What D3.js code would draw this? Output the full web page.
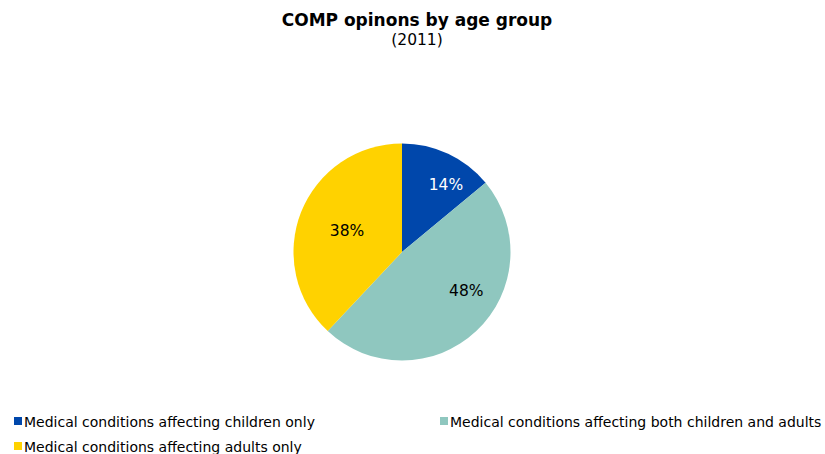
<!DOCTYPE html>
<html><head><meta charset="utf-8">
<script src="https://cdn.jsdelivr.net/npm/d3@7"></script>
<style>body{margin:0;background:#fff}svg{display:block}text{font-family:"DejaVu Sans",Verdana,sans-serif}</style>
</head><body>
<svg id="c" width="825" height="454"></svg>
<script>
const categories = ["Medical conditions affecting children only","Medical conditions affecting both children and adults","Medical conditions affecting adults only"];
const values = [14, 48, 38];
const colors = ["#0047AB", "#8FC7BF", "#FFD200"];
const labelColors = ["#ffffff", "#000000", "#000000"];
const title = "COMP opinons by age group";
const subtitle = "(2011)";

const svg = d3.select("#c");
svg.append("text").attr("x", 417).attr("y", 26).attr("text-anchor","middle")
  .attr("font-size", 17).attr("font-weight","bold").text(title);
svg.append("text").attr("x", 417).attr("y", 45).attr("text-anchor","middle")
  .attr("font-size", 15.5).text(subtitle);

const cx = 402, cy = 252, R = 108.5;
// label placement (best-fit style): radius fraction and angular nudge per slice
const labelRadius = [0.74, 0.69, 0.545];
const labelAngleShift = [8, -16, 0];
const pie = d3.pie().sort(null).value(d => d)(values);
const arc = d3.arc().innerRadius(0).outerRadius(R);
const g = svg.append("g").attr("transform", `translate(${cx},${cy})`);
g.selectAll("path").data(pie).join("path").attr("d", arc).attr("fill", (d,i)=>colors[i]);
g.selectAll("text").data(pie).join("text")
  .attr("transform", (d,i) => {
    const a = (d.startAngle + d.endAngle)/2 + labelAngleShift[i]*Math.PI/180;
    const r = R*labelRadius[i];
    return `translate(${r*Math.sin(a)},${-r*Math.cos(a)})`;
  })
  .attr("text-anchor","middle").attr("dy","0.35em").attr("font-size", 15.5)
  .attr("fill", (d,i)=>labelColors[i]).text(d => d.data + "%");

const leg = [{x:14,y:417},{x:440,y:417},{x:14,y:442}];
categories.forEach((c,i) => {
  svg.append("rect").attr("x", leg[i].x).attr("y", leg[i].y).attr("width", 8).attr("height", 8).attr("fill", colors[i]);
  svg.append("text").attr("x", leg[i].x + 10).attr("y", leg[i].y + 10).attr("font-size", 14).text(c);
});
</script>
</body></html>
